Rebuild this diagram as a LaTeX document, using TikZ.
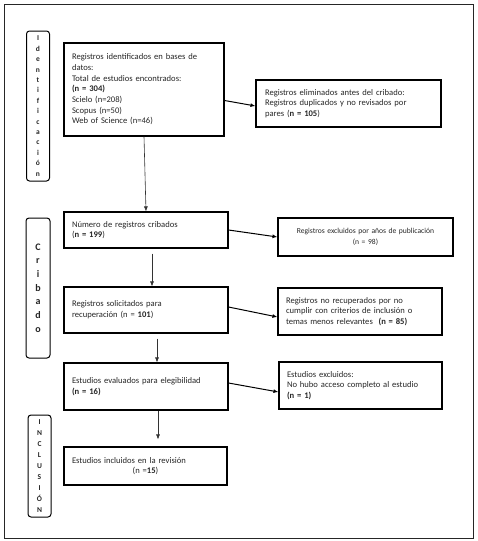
\documentclass[tikz,border=0pt]{standalone}
\usepackage{fontspec}
\setmainfont{Carlito}
\usetikzlibrary{arrows.meta}
\begin{document}
\begin{tikzpicture}[x=1pt,y=-1pt,
    caja/.style={draw, line width=1.1pt, inner xsep=8pt, inner ysep=2pt, align=left,
      text=black!85, font=\fontsize{8.6}{10.7}\selectfont},
    fase/.style={draw, line width=1pt, rounded corners=3pt, align=center, inner sep=0pt,
      minimum width=23pt, text=black!85},
    flecha/.style={-{Latex[length=5pt,width=4pt]}, line width=0.6pt, black!80},
    flechad/.style={-{Latex[length=5pt,width=4pt]}, line width=1pt}]
    \useasboundingbox (0,0) rectangle (478,541);
    \draw[line width=1pt, black!85] (4,4) rectangle (473,538);

    \node[fase, minimum height=150pt, font=\bfseries\fontsize{7.5}{10.4}\selectfont] (fid) at (38,106)
      {I\\d\\e\\n\\t\\i\\f\\i\\c\\a\\c\\i\\ó\\n};
    \node[fase, minimum width=24pt, minimum height=140pt, font=\bfseries\fontsize{10}{13.7}\selectfont] (fcr) at (38,288)
      {C\\r\\i\\b\\a\\d\\o};
    \node[fase, minimum height=102pt, font=\bfseries\fontsize{7.5}{10.9}\selectfont] (fin) at (39.5,466)
      {I\\N\\C\\L\\U\\S\\I\\Ó\\N};

    \node[caja, text width=144pt, minimum height=93pt] (reg) at (144,89.5)
      {Registros identificados en bases de\\datos:\\Total de estudios encontrados:\\
       \textbf{(n = 304)}\\Scielo (n=208)\\Scopus (n=50)\\Web of Science (n=46)};
    \node[caja, text width=167pt, inner xsep=9pt, minimum height=47pt] (elim) at (348.5,103.5)
      {Registros eliminados antes del cribado:\\Registros duplicados y no revisados por\\pares (\textbf{n = 105})};

    \node[caja, text width=148pt, minimum height=36pt] (crib) at (146,230)
      {Número de registros cribados\\(\textbf{n = 199})};
    \node[caja, text width=159pt, minimum height=38pt, align=center, font=\fontsize{7.6}{10.5}\selectfont] (exan) at (365.5,237)
      {Registros excluidos por años de publicación\\(n = 98)};

    \node[caja, text width=148pt, minimum height=46pt] (soli) at (146,310)
      {Registros solicitados para\\recuperación (n = \textbf{101})};
    \node[caja, text width=148pt, minimum height=47pt] (norec) at (360,311.5)
      {Registros no recuperados por no\\cumplir con criterios de inclusión o\\temas menos relevantes \ \textbf{(n = 85)}};

    \node[caja, text width=148pt, minimum height=47pt] (eleg) at (146,386.5)
      {Estudios evaluados para elegibilidad\\\textbf{(n = 16)}};
    \node[caja, text width=147pt, minimum height=47pt] (exest) at (360.5,385.5)
      {Estudios excluidos:\\No hubo acceso completo al estudio\\\textbf{(n = 1)}};

    \node[caja, text width=147pt, minimum height=38pt] (incl) at (145.5,466)
      {Estudios incluidos en la revisión\\\makebox[147pt]{(n =\textbf{15})}};

    \draw[flechad] ([yshift=-11pt]reg.east) -- ([yshift=-2.5pt]elim.west);
    \draw[flechad] (crib.east) -- (exan.west);
    \draw[flechad] ([yshift=3pt]soli.east) -- ([yshift=-5.5pt]norec.west);
    \draw[flechad] ([yshift=3.5pt]eleg.east) -- ([yshift=-6.5pt]exest.west);

    \draw[flecha] (reg.south) -- (crib.north);
    \draw[flecha] ([xshift=6pt,yshift=-5pt]crib.south) -- ([xshift=6pt]soli.north);
    \draw[flecha] ([xshift=11pt,yshift=-5pt]soli.south) -- ([xshift=11pt]eleg.north);
    \draw[flecha] ([xshift=12pt]eleg.south) -- ([xshift=12.5pt,yshift=7pt]incl.north);
\end{tikzpicture}
\end{document}
